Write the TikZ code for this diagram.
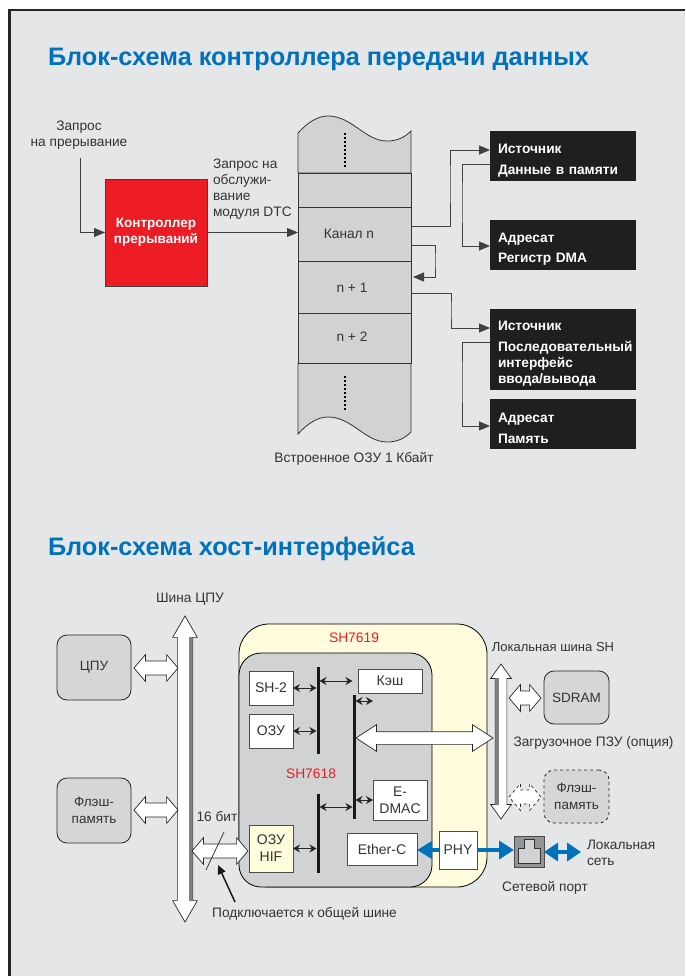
\documentclass[tikz,border=0pt]{standalone}
\usepackage{fontspec}
\setmainfont{Liberation Sans}
\usepackage{xcolor}
\usetikzlibrary{arrows.meta, positioning, shapes.arrows}
\definecolor{panelgray}{HTML}{E5E6E8}
\definecolor{cellgray}{HTML}{D1D2D4}
\definecolor{chipyellow}{HTML}{FFFBDC}
\definecolor{titleblue}{HTML}{0072BC}
\definecolor{alertred}{HTML}{ED1C24}
\definecolor{inkgray}{HTML}{333333}
\newcommand{\boxtop}{\rule{0pt}{18pt}}

\begin{document}
\begin{tikzpicture}[
    x=1pt, y=-1pt,
    every node/.style={outer sep=0pt},
    txt/.style={font=\fontsize{13.7}{16}\selectfont, text=inkgray, align=center, inner sep=0pt},
    heading/.style={font=\fontsize{25.3}{28}\selectfont\bfseries, text=titleblue, anchor=west, inner sep=0pt},
    chiplabel/.style={font=\fontsize{13.8}{16}\selectfont, text=alertred, inner sep=0pt},
    wh/.style 2 args={minimum width=#1pt, minimum height=#2pt, anchor=north west},
    cell/.style={draw=black!80, fill=cellgray, line width=0.8pt, inner sep=0pt},
    darkbox/.style={fill=black!88, text=white, font=\fontsize{13.7}{16}\selectfont\bfseries,
                    align=left, text width=130pt, inner xsep=8pt, inner ysep=0pt, anchor=north west},
    whitebox/.style={draw=black!70, fill=white, line width=0.8pt, font=\fontsize{14}{17}\selectfont,
                    text=inkgray, align=center, inner sep=0pt},
    grayblock/.style={draw=black!85, fill=cellgray!80!panelgray, rounded corners=10pt, line width=0.8pt,
                    font=\fontsize{13.5}{17}\selectfont, text=inkgray, align=center, inner sep=0pt},
    busbar/.style={fill=black!90, minimum width=3pt, inner sep=0pt, anchor=north},
    wire/.style={draw=black!75, line width=0.9pt, -{Triangle[length=11pt,width=9pt]}},
    tiny/.style={draw=black!85, line width=0.9pt, {Stealth[length=7pt,width=8pt]}-{Stealth[length=7pt,width=8pt]}},
    netlink/.style={draw=titleblue, line width=4pt},
    blockarrow/.style={double arrow, draw=black!85, fill=white, line width=0.7pt, inner xsep=0pt,
                    inner ysep=6.7pt, double arrow head extend=6.3pt, double arrow tip angle=99,
                    minimum height=44pt}
  ]
  \useasboundingbox (0,0) rectangle (685,976);
  % panel
  \fill[black!85] (8,9) rectangle (685,976);
  \fill[panelgray] (10.5,11.5) rectangle (685,976);

  % first block diagram
  \node[heading] (titlea) at (48,59) {Блок-схема контроллера передачи данных};
  \node[txt] (reqint) at (79,135) {Запрос\\на прерывание};
  \coordinate (reqstart) at (80.3,158);
  \node[draw=black!75, fill=alertred, wh={102}{107}, font=\fontsize{13.5}{16}\selectfont\bfseries,
        text=white, align=center, inner sep=0pt] (intc) at (105,179) {Контроллер\\прерываний};
  \node[txt, align=left, anchor=north west] (reqdtc) at (213,159) {Запрос на\\обслужи-\\вание\\модуля DTC};

  % memory column
  \draw[cell] (298,133) .. controls (308,122) and (318,116) .. (328,116)
     .. controls (352,116) and (365,141) .. (387,141)
     .. controls (395,141) and (403,139) .. (411,131) -- (411,173) -- (298,173) -- cycle;
  \draw[cell] (298,363) -- (298,434) .. controls (308,423) and (318,417) .. (328,417)
     .. controls (352,417) and (365,442) .. (387,442)
     .. controls (395,442) and (403,440) .. (411,432) -- (411,363) -- cycle;
  \node[cell, wh={113}{34}] (slot) at (298,173) {};
  \node[cell, wh={113}{54}] (chan) at (298,207) {};
  \node[cell, wh={113}{52}] (chanb) at (298,261) {};
  \node[cell, wh={113}{50}] (chanc) at (298,313) {};
  \draw[black, line width=2.5pt, dash pattern=on 2pt off 2pt] (345,133) -- (345,167);
  \draw[black, line width=2.5pt, dash pattern=on 2pt off 2pt] (345,376) -- (345,410);
  \node[txt] (chanlabel) at (349,234) {Канал n};
  \node[txt] (chanblabel) at (352,287.5) {n + 1};
  \node[txt] (chanclabel) at (352,337) {n + 2};
  \node[txt] (ramlabel) at (354,459) {Встроенное ОЗУ 1 Кбайт};

  % black boxes
  \node[darkbox, minimum height=50pt] (srca) at (490,131) {\boxtop Источник\\[5pt]Данные в памяти};
  \node[darkbox, minimum height=50pt, below=39pt of srca] (dsta) {\boxtop Адресат\\[4pt]Регистр DMA};
  \node[darkbox, minimum height=81pt, below=39pt of dsta] (srcb) {\boxtop Источник\\[5pt]\mbox{Последовательный}\\интерфейс\\ввода/вывода};
  \node[darkbox, minimum height=50pt, below=9pt of srcb] (dstb) {\boxtop Адресат\\[5pt]Память};

  % arcs of the first diagram
  \draw[wire] (reqstart) |- (intc.west);
  \draw[wire] (intc.east) -- (chan.west |- intc.east);
  \draw[wire] (chan.east |- 0,226) -| (450,180) |- (srca.west |- 0,150);
  \draw[wire] (srca.west |- 0,164) -| (462,200) |- (dsta.west |- 0,246);
  \draw[wire] (chan.east |- 0,245) -| (435,260) |- (413,277);
  \draw[wire] (chanb.east |- 0,293) -| (451,310) |- (srcb.west |- 0,328);
  \draw[wire] (srcb.west |- 0,342) -| (462,380) |- (dstb.west |- 0,426);

  % second block diagram
  \node[heading] (titleb) at (48,549) {Блок-схема хост-интерфейса};
  \node[txt] (cpubuslabel) at (190,599) {Шина ЦПУ};
  \node[grayblock, wh={74}{65}] (cpu) at (57,635) {ЦПУ};
  \node[grayblock, wh={74}{65}] (flasha) at (57,778) {Флэш-\\память};

  % chips
  \node[draw=black, fill=chipyellow, rounded corners=30pt, line width=0.8pt, wh={248}{263}] (sha) at (239,624) {};
  \node[draw=black, fill=cellgray, rounded corners=22pt, line width=0.8pt, wh={193}{234}] (shb) at (239,653) {};
  \node[chiplabel] (shalabel) at (354,638) {SH7619};
  \node[chiplabel] (shblabel) at (311,774) {SH7618};
  \node[whitebox, wh={44}{34}] (core) at (249,671) {SH-2};
  \node[whitebox, wh={44}{34}] (ram) at (249,714) {ОЗУ};
  \node[whitebox, fill=chipyellow, wh={44}{47}] (hif) at (249,825) {ОЗУ\\HIF};
  \node[whitebox, wh={64}{24}] (cache) at (358,669) {Кэш};
  \node[whitebox, wh={54}{40}] (dmac) at (373,780) {E-\\DMAC};
  \node[whitebox, wh={70}{32}] (ether) at (347,833) {Ether-C};
  \node[whitebox, wh={38}{38}] (phy) at (439,831) {PHY};
  \node[busbar, minimum height=87pt] (bara) at (318,667) {};
  \node[busbar, minimum height=124pt] (barb) at (354,695) {};
  \node[busbar, minimum height=79pt] (barc) at (318,794) {};
  \coordinate (stub) at (373,701);

  \draw[tiny] (core.east) -- (bara.west |- core.east);
  \draw[tiny] (ram.east) -- (bara.west |- ram.east);
  \draw[tiny] (hif.east) -- (barc.west |- hif.east);
  \draw[tiny] (bara.east |- cache.west) -- (barb.west |- cache.west);
  \draw[tiny] (barb.east |- stub) -- (stub);
  \draw[tiny] (barb.east |- dmac.west) -- (dmac.west);
  \draw[tiny] (barc.east |- 0,807) -- (barb.west |- 0,807);

  % wide arrows
  \node[blockarrow, rotate=90, minimum height=306pt, inner ysep=7.3pt, double arrow head extend=4.7pt,
        double arrow tip angle=60] (cpubus) at (185,769) {};
  \fill[black!50] (189,637) rectangle (192,901);
  \node[blockarrow] (cpulink) at (156,668) {};
  \node[blockarrow] (flashlink) at (156,810) {};
  \node[blockarrow, minimum height=56pt] (hiflink) at (220,851) {};
  \node[txt] (widthlabel) at (217,817) {16 бит};
  \coordinate (slasha) at (224,832);
  \coordinate (slashb) at (206,870);
  \draw[black!85, line width=0.7pt] (slasha) -- (slashb);
  \node[txt] (sharedlabel) at (304.5,914) {Подключается к общей шине};
  \coordinate (sharedstart) at (235,902);
  \coordinate (sharedtip) at (218,865);
  \draw[black!90, line width=1.5pt, -{Triangle[length=9pt,width=8pt]}] (sharedstart) -- (sharedtip);

  \node[blockarrow, rotate=90, minimum height=155pt, inner ysep=5.5pt, double arrow head extend=4.5pt,
        double arrow tip angle=71] (localbus) at (501,741.5) {};
  \fill[black!50] (495.5,678) rectangle (499,805);
  \node[blockarrow, minimum height=137pt, inner ysep=6pt, double arrow head extend=7pt,
        double arrow tip angle=66] (biglink) at (424.5,738) {};
  \node[blockarrow, minimum height=32pt] (sdramlink) at (525,698) {};
  \node[blockarrow, minimum height=32pt, dashed] (flashblink) at (525,797) {};
  \node[txt, font=\fontsize{13}{16}\selectfont] (localbuslabel) at (553,647) {Локальная шина SH};
  \node[grayblock, wh={65}{53}] (sdram) at (544,671) {SDRAM};
  \node[txt] (bootlabel) at (593.5,743) {Загрузочное ПЗУ (опция)};
  \node[grayblock, dashed, wh={65}{53}] (flashb) at (544,770) {Флэш-\\память};

  % network port
  \node[draw=black!70, fill=black!42, line width=0.8pt, wh={30}{31}] (port) at (514,836) {};
  \draw[draw=black!80, fill=cellgray, line width=0.7pt] (518,863) -- (518,848) -- (524,848) -- (524,839)
     -- (534,839) -- (534,848) -- (540,848) -- (540,863) -- cycle;
  \node[txt, align=left, anchor=north west] (lanlabel) at (587,840) {Локальная\\сеть};
  \node[txt] (portlabel) at (545,888) {Сетевой порт};

  \draw[netlink, -{Triangle[length=15pt,width=17pt]}] (phy.west) -- (ether.east |- phy.west);
  \draw[netlink, -{Triangle[length=15pt,width=18pt]}] (phy.east) -- (port.west |- phy.east);
  \coordinate (lanend) at (581,852);
  \draw[netlink, {Triangle[length=14pt,width=18pt]}-{Triangle[length=14pt,width=18pt]}] (port.east |- lanend) -- (lanend);
\end{tikzpicture}
\end{document}
